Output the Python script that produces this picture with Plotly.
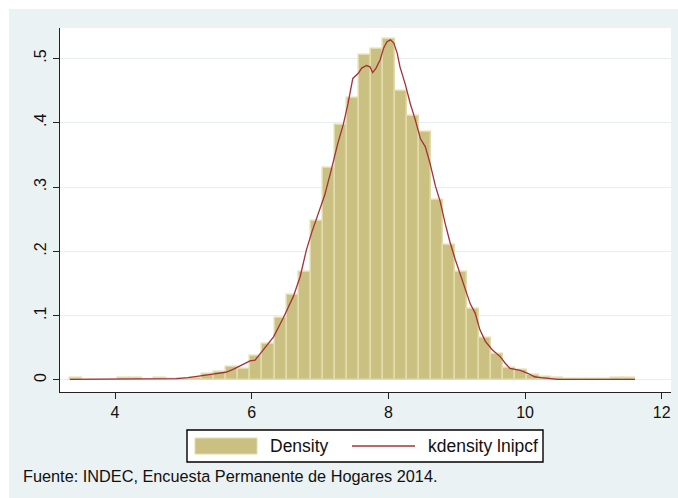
import plotly.graph_objects as go

# ---------------- data ----------------
bin_centers = [3.430, 3.606, 3.782, 3.958, 4.134, 4.310, 4.486, 4.662, 4.838, 5.014,
               5.190, 5.366, 5.542, 5.718, 5.894, 6.070, 6.246, 6.422, 6.598, 6.774,
               6.950, 7.126, 7.302, 7.478, 7.654, 7.830, 8.006, 8.182, 8.358, 8.534,
               8.710, 8.886, 9.062, 9.238, 9.414, 9.590, 9.766, 9.942, 10.118, 10.294,
               10.470, 10.646, 10.822, 10.998, 11.174, 11.350, 11.526]
bin_width = 0.176
density = [0.0026, 0.0, 0.0, 0.0, 0.0026, 0.0026, 0.0, 0.0026, 0.001, 0.001,
           0.0036, 0.009, 0.012, 0.020, 0.017, 0.038, 0.056, 0.097, 0.132, 0.168,
           0.248, 0.329, 0.396, 0.438, 0.505, 0.514, 0.530, 0.450, 0.411, 0.385,
           0.280, 0.210, 0.168, 0.110, 0.065, 0.040, 0.018, 0.016, 0.008, 0.004,
           0.003, 0.001, 0.001, 0.001, 0.001, 0.0026, 0.0026]

kde_x = [3.34, 4.00, 4.72, 4.90, 5.07, 5.27, 5.43, 5.62, 5.72, 5.83,
         5.975, 6.05, 6.12, 6.17, 6.32, 6.46, 6.61, 6.71, 6.80, 6.88,
         6.97, 7.07, 7.17, 7.26, 7.34, 7.41, 7.48, 7.56, 7.61, 7.68,
         7.73, 7.77, 7.82, 7.88, 7.93, 7.98, 8.03, 8.08, 8.13, 8.17,
         8.25, 8.32, 8.39, 8.47, 8.54, 8.61, 8.69, 8.76, 8.83, 8.90,
         8.98, 9.05, 9.12, 9.20, 9.27, 9.34, 9.42, 9.52, 9.64, 9.71,
         9.78, 9.93, 10.04, 10.14, 10.23, 10.48, 11.00, 11.61]
kde_y = [0.001, 0.001, 0.001, 0.002, 0.0036, 0.006, 0.009, 0.012, 0.016, 0.022,
         0.0296, 0.031, 0.040, 0.047, 0.067, 0.096, 0.130, 0.161, 0.202, 0.230,
         0.258, 0.288, 0.329, 0.368, 0.397, 0.430, 0.469, 0.477, 0.485, 0.489,
         0.487, 0.478, 0.485, 0.498, 0.516, 0.526, 0.529, 0.524, 0.508, 0.487,
         0.459, 0.430, 0.406, 0.375, 0.363, 0.337, 0.301, 0.277, 0.244, 0.215,
         0.187, 0.166, 0.143, 0.118, 0.104, 0.078, 0.060, 0.047, 0.036, 0.026,
         0.018, 0.015, 0.0104, 0.005, 0.0036, 0.001, 0.001, 0.001]

x_ticks = [4, 6, 8, 10, 12]
x_tick_labels = ["4", "6", "8", "10", "12"]
y_ticks = [0, 0.1, 0.2, 0.3, 0.4, 0.5]
y_tick_labels = ["0", ".1", ".2", ".3", ".4", ".5"]

legend_labels = ["Density", "kdensity lnipcf"]
footnote = "Fuente: INDEC, Encuesta Permanente de Hogares 2014."

# ---------------- style ----------------
W, H = 678, 498
ML, MR, MT, MB = 60, 7, 28, 106
PW, PH = W - ML - MR, H - MT - MB
BG = "#eaf2f3"
BAR = "#c9c081"
BAR_EDGE = "#e1dcaa"
LINE = "#a3303a"
FONT = "Arial, Liberation Sans, sans-serif"


def px(x):
    return (x - ML) / PW


def py(y):
    return (H - MB - y) / PH


fig = go.Figure()
fig.add_trace(go.Bar(
    x=bin_centers, y=density, width=bin_width, name=legend_labels[0],
    marker=dict(color=BAR, line=dict(color=BAR_EDGE, width=1.5)),
    showlegend=False,
))
fig.add_trace(go.Scatter(
    x=kde_x, y=kde_y, mode="lines", name=legend_labels[1],
    line=dict(color=LINE, width=1.3), showlegend=False,
))

shapes = [
    # white strips at top and left of the image
    dict(type="rect", xref="paper", yref="paper", x0=px(0), x1=px(W), y0=py(0), y1=py(9),
         fillcolor="white", line=dict(width=0), layer="below"),
    dict(type="rect", xref="paper", yref="paper", x0=px(0), x1=px(9), y0=py(0), y1=py(H),
         fillcolor="white", line=dict(width=0), layer="below"),
    # legend box
    dict(type="rect", xref="paper", yref="paper", x0=px(187), x1=px(543), y0=py(430), y1=py(462),
         fillcolor="white", line=dict(color="black", width=1.4)),
    dict(type="rect", xref="paper", yref="paper", x0=px(195), x1=px(257), y0=py(438), y1=py(454),
         fillcolor=BAR, line=dict(color=BAR_EDGE, width=1)),
    dict(type="line", xref="paper", yref="paper", x0=px(352), x1=px(415), y0=py(446), y1=py(446),
         line=dict(color=LINE, width=1.3)),
]

annotations = [
    dict(text=legend_labels[0], xref="paper", yref="paper", x=px(268), y=py(446),
         xanchor="left", yanchor="middle", showarrow=False,
         font=dict(family=FONT, size=17.5, color="#111")),
    dict(text=legend_labels[1], xref="paper", yref="paper", x=px(426), y=py(446),
         xanchor="left", yanchor="middle", showarrow=False,
         font=dict(family=FONT, size=17.5, color="#111")),
    dict(text=footnote, xref="paper", yref="paper", x=px(21), y=py(476),
         xanchor="left", yanchor="middle", showarrow=False,
         font=dict(family=FONT, size=16.3, color="#111")),
]

fig.update_layout(
    width=W, height=H,
    margin=dict(l=ML, r=MR, t=MT, b=MB, pad=0),
    paper_bgcolor=BG, plot_bgcolor="white",
    bargap=0, showlegend=False,
    shapes=shapes, annotations=annotations,
    font=dict(family=FONT, color="#111"),
)
fig.update_xaxes(
    range=[3.195, 12.136], tickvals=x_ticks, ticktext=x_tick_labels,
    showgrid=False, zeroline=False, showline=True, linecolor="#222", linewidth=1.3,
    ticks="outside", ticklen=6, tickwidth=1.3, tickcolor="#222",
    tickfont=dict(family=FONT, size=16, color="#111"),
)
fig.update_yaxes(
    range=[-0.0187, 0.5474], tickvals=y_ticks, ticktext=y_tick_labels,
    showgrid=True, gridcolor="#e5eef0", gridwidth=1.2, zeroline=False,
    showline=True, linecolor="#222", linewidth=1.3,
    ticks="outside", ticklen=6, tickwidth=1.3, tickcolor="#222", tickangle=-90,
    tickfont=dict(family=FONT, size=16, color="#111"),
)

fig.write_html("out.html")
